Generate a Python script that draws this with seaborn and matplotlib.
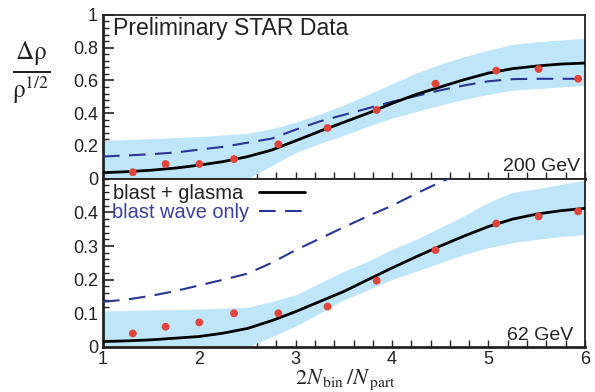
import numpy as np
import matplotlib
matplotlib.use("Agg")
import matplotlib.pyplot as plt
from matplotlib.ticker import FixedLocator, MultipleLocator
import seaborn as sns

# centrality variable 2Nbin/Npart
x_grid = [1, 1.25, 1.5, 1.75, 2, 2.25, 2.5, 2.75, 3, 3.25, 3.5, 3.75, 4,
          4.25, 4.5, 4.75, 5, 5.25, 5.5, 5.75, 6]
x_data = [1.31, 1.65, 2.0, 2.36, 2.82, 3.33, 3.84, 4.45, 5.08, 5.52, 5.93]

# 200 GeV
star200 = [0.04, 0.09, 0.09, 0.12, 0.21, 0.31, 0.42, 0.58, 0.66, 0.67, 0.61]
glasma200 = [0.037, 0.043, 0.052, 0.065, 0.083, 0.105, 0.135, 0.175, 0.232, 0.29,
             0.345, 0.40, 0.46, 0.515, 0.56, 0.605, 0.645, 0.672, 0.688, 0.70, 0.706]
blast200 = [0.136, 0.142, 0.15, 0.16, 0.178, 0.195, 0.22, 0.245, 0.30, 0.35,
            0.39, 0.43, 0.47, 0.505, 0.54, 0.57, 0.595, 0.608, 0.61, 0.61, 0.61]
band200_hi = [0.233, 0.239, 0.245, 0.251, 0.258, 0.267, 0.277, 0.305, 0.345, 0.395,
              0.45, 0.515, 0.58, 0.645, 0.70, 0.745, 0.785, 0.82, 0.835, 0.847, 0.857]
band200_lo = [-0.12, -0.1, -0.08, -0.06, -0.04, -0.02, 0.0, 0.08, 0.16, 0.215,
              0.265, 0.32, 0.37, 0.41, 0.45, 0.485, 0.515, 0.54, 0.55, 0.56, 0.57]

# 62 GeV
star62 = [0.04, 0.06, 0.073, 0.10, 0.10, 0.12, 0.197, 0.288, 0.367, 0.388, 0.403]
glasma62 = [0.016, 0.018, 0.021, 0.026, 0.031, 0.041, 0.055, 0.078, 0.105, 0.135,
            0.165, 0.20, 0.235, 0.268, 0.30, 0.33, 0.358, 0.38, 0.395, 0.405, 0.412]
blast62 = [0.134, 0.141, 0.152, 0.166, 0.183, 0.20, 0.218, 0.25, 0.288, 0.322,
           0.356, 0.389, 0.42, 0.456, 0.49, 0.52, 0.55, 0.575, 0.60, 0.615, 0.625]
band62_hi = [0.107, 0.108, 0.11, 0.111, 0.113, 0.115, 0.118, 0.135, 0.155, 0.19,
             0.225, 0.255, 0.29, 0.32, 0.355, 0.39, 0.43, 0.46, 0.47, 0.483, 0.496]
band62_lo = [-0.1, -0.09, -0.07, -0.055, -0.04, -0.02, 0.0, 0.03, 0.062, 0.1,
             0.14, 0.17, 0.2, 0.225, 0.25, 0.275, 0.295, 0.31, 0.32, 0.328, 0.334]

top_ticks = [0, 0.2, 0.4, 0.6, 0.8, 1]
top_labels = ["0", "0.2", "0.4", "0.6", "0.8", "1"]
bot_ticks = [0, 0.1, 0.2, 0.3, 0.4]
bot_labels = ["0", "0.1", "0.2", "0.3", "0.4"]
x_ticks = [1, 2, 3, 4, 5, 6]

BAND = "#bfe6f8"
RED = "#e0453c"
BLUE = "#2a3596"
INK = "#222222"

sns.set_style("ticks")
plt.rcParams["font.family"] = ["Liberation Sans", "DejaVu Sans"]

fig = plt.figure(figsize=(5.95, 3.92), dpi=100)
ax1 = fig.add_axes([0.173, 0.544, 0.81, 0.418])
ax2 = fig.add_axes([0.173, 0.115, 0.81, 0.429])


def draw_panel(ax, lo, hi, glasma, blast, pts, label_lines):
    ax.fill_between(x_grid, lo, hi, color=BAND, lw=0, zorder=1)
    sns.lineplot(x=x_grid, y=blast, ax=ax, color=BLUE, lw=1.5,
                 linestyle=(0, (8, 4.5)), zorder=3,
                 label="blast wave only" if label_lines else None)
    # trailing space keeps both legend texts left-aligned
    sns.lineplot(x=x_grid, y=glasma, ax=ax, color="black", lw=2.0, zorder=4,
                 label="blast + glasma " if label_lines else None)
    sns.scatterplot(x=x_data, y=pts, ax=ax, color=RED, s=32, edgecolor="none",
                    zorder=5)
    ax.set_xlim(1, 6)
    ax.xaxis.set_major_locator(FixedLocator(x_ticks))
    ax.xaxis.set_minor_locator(MultipleLocator(0.2))
    ax.tick_params(axis="both", which="both", direction="in",
                   top=False, right=False, labelsize=13, colors=INK)
    ax.tick_params(axis="y", which="major", length=8, width=1.2)
    ax.tick_params(axis="y", which="minor", length=4.5, width=1.0)
    ax.tick_params(axis="x", which="both", length=5, width=1.0)
    for side in ["left", "bottom"]:
        ax.spines[side].set_linewidth(2.0)
    for side in ["top", "right"]:
        ax.spines[side].set_linewidth(1.3)
    for sp in ax.spines.values():
        sp.set_color(INK)


draw_panel(ax1, band200_lo, band200_hi, glasma200, blast200, star200, False)
draw_panel(ax2, band62_lo, band62_hi, glasma62, blast62, star62, True)

ax1.set_ylim(0, 1)
ax1.set_yticks(top_ticks)
ax1.set_yticklabels(top_labels)
ax1.yaxis.set_minor_locator(MultipleLocator(0.04))
ax1.set_xticklabels([])
ax1.set_xlabel("")

ax2.set_ylim(0, 0.5)
ax2.set_yticks(bot_ticks)
ax2.set_yticklabels(bot_labels)
ax2.yaxis.set_minor_locator(MultipleLocator(0.02))
ax2.set_xticklabels([str(t) for t in x_ticks])
ax2.tick_params(axis="x", pad=3)

ax1.text(0.02, 0.985, "Preliminary STAR Data", transform=ax1.transAxes,
         ha="left", va="top", fontsize=16.6, color=INK)
ax1.text(0.99, 0.02, "200 GeV", transform=ax1.transAxes,
         ha="right", va="bottom", fontsize=14, color=INK)
ax2.text(0.975, 0.02, "62 GeV", transform=ax2.transAxes,
         ha="right", va="bottom", fontsize=14, color=INK)

# legend: text first, line sample to the right
h, l = ax2.get_legend_handles_labels()
order = [l.index("blast + glasma "), l.index("blast wave only")]
leg = ax2.legend([h[i] for i in order], [l[i] for i in order],
                 loc="upper left", bbox_to_anchor=(-0.006, 1.04),
                 markerfirst=False, frameon=False, fontsize=14.4,
                 handlelength=2.3, handletextpad=0.5, labelspacing=0.0,
                 borderaxespad=0.2)
leg.get_texts()[0].set_color(INK)
leg.get_texts()[1].set_color("#3a40a0")

fig.text(0.053, 0.812, r"$\frac{\Delta\mathrm{ρ}}{\mathrm{ρ}^{1/2}}$", fontsize=26,
         ha="center", va="center", math_fontfamily="stix", color=INK)
fig.text(0.58, 0.02, r"$2N_{\,\mathrm{bin}}\,/N_{\,\mathrm{part}}$", fontsize=16,
         ha="center", va="baseline", math_fontfamily="stix", color=INK)

fig.savefig("out.png", dpi=100)
